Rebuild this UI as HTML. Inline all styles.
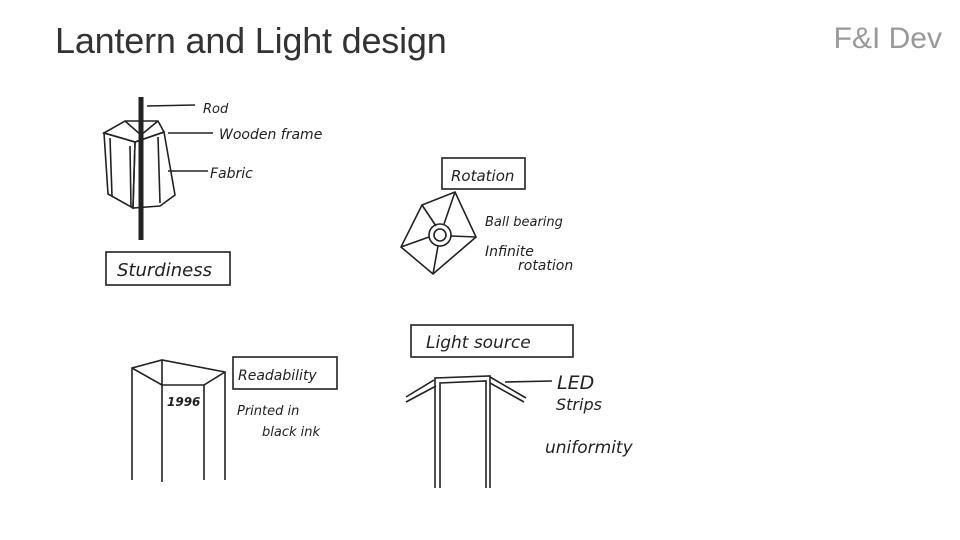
<!DOCTYPE html>
<html><head><meta charset="utf-8"><style>
html,body{margin:0;padding:0;background:#fff;}
body{width:960px;height:540px;position:relative;overflow:hidden;font-family:"Liberation Sans",sans-serif;}
.t{position:absolute;left:55px;top:20px;font-size:36px;color:#333;letter-spacing:-0.2px}
.b{position:absolute;right:18px;top:22px;font-size:30px;color:#999;}
svg text{font-family:"DejaVu Sans","Liberation Sans",sans-serif;fill:#222;font-style:italic}
</style></head><body>
<div class="t">Lantern and Light design</div>
<div class="b">F&amp;I Dev</div>
<svg width="960" height="540" style="position:absolute;left:0;top:0" stroke="#222" fill="none" stroke-width="1.6">
<line x1="141" y1="97" x2="141" y2="240" stroke-width="5"/>
<polygon points="104,133 125,121 158,121 164,132 135,142"/>
<line x1="125" y1="121" x2="141" y2="135"/><line x1="158" y1="121" x2="141" y2="135"/>
<polygon points="104,133 108,194 133,208 135,142" />
<polygon points="135,142 164,132 175,195 160,206 133,208"/>
<line x1="130" y1="146" x2="131" y2="207"/><line x1="158" y1="137" x2="160" y2="203"/>
<line x1="110" y1="138" x2="112" y2="196"/>
<line x1="147" y1="106" x2="195" y2="105"/>
<line x1="168" y1="133" x2="213" y2="133"/>
<line x1="168" y1="171" x2="208" y2="171"/>
<rect x="106" y="252" width="124" height="33"/>
<text x="117" y="276" font-size="18" stroke="none">Sturdiness</text>
<text x="203" y="113" font-size="13" stroke="none">Rod</text>
<text x="219" y="139" font-size="14" stroke="none">Wooden frame</text>
<text x="210" y="178" font-size="14" stroke="none">Fabric</text>
<rect x="442" y="158" width="83" height="31"/>
<text x="451" y="181" font-size="15" stroke="none">Rotation</text>
<polygon points="422,205 455,192 476,237 433,274 401,247"/>
<circle cx="440" cy="235" r="11"/><circle cx="440" cy="235" r="6"/>
<line x1="422" y1="205" x2="436" y2="226"/><line x1="455" y1="192" x2="444" y2="224"/>
<line x1="476" y1="237" x2="451" y2="236"/><line x1="433" y1="274" x2="438" y2="246"/>
<line x1="401" y1="247" x2="429" y2="237"/>
<text x="485" y="226" font-size="13" stroke="none">Ball bearing</text>
<text x="485" y="256" font-size="14" stroke="none">Infinite</text>
<text x="518" y="270" font-size="14" stroke="none">rotation</text>
<polyline points="132,480 132,368 162,360 225,372 225,480"/>
<line x1="162" y1="360" x2="162" y2="482"/><line x1="162" y1="385" x2="204" y2="385"/>
<line x1="132" y1="368" x2="162" y2="385"/><line x1="225" y1="372" x2="204" y2="385"/>
<line x1="204" y1="385" x2="204" y2="480"/>
<text x="167" y="406" font-size="12" font-weight="bold" font-style="normal" stroke="none">1996</text>
<rect x="233" y="357" width="104" height="32"/>
<text x="238" y="380" font-size="14" stroke="none">Readability</text>
<text x="237" y="415" font-size="13" stroke="none">Printed in</text>
<text x="262" y="436" font-size="13" stroke="none">black ink</text>
<rect x="411" y="325" width="162" height="32"/>
<text x="426" y="348" font-size="17" stroke="none">Light source</text>
<polyline points="435,488 435,378 490,376 490,488"/>
<polyline points="440,488 440,383 486,381 486,488"/>
<line x1="406" y1="397" x2="434" y2="380"/><line x1="406" y1="402" x2="436" y2="386"/>
<line x1="490" y1="377" x2="526" y2="398"/><line x1="490" y1="383" x2="524" y2="402"/>
<line x1="505" y1="382" x2="552" y2="381"/>
<text x="557" y="389" font-size="19" font-style="normal" stroke="none">LED</text>
<text x="556" y="410" font-size="16" stroke="none">Strips</text>
<text x="545" y="453" font-size="17" stroke="none">uniformity</text>
</svg>
</body></html>
